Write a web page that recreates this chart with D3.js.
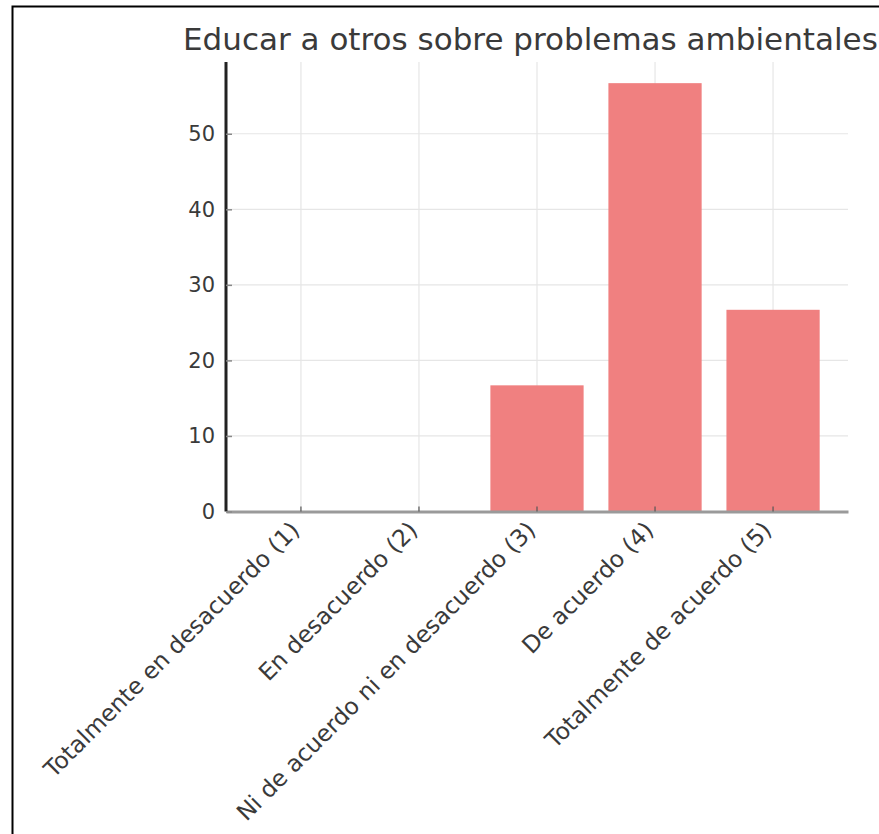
<!DOCTYPE html>
<html>
<head>
<meta charset="utf-8">
<script src="https://cdn.jsdelivr.net/npm/d3@7"></script>
<style>
  html, body { margin: 0; padding: 0; background: #fff; }
  svg { display: block; }
</style>
</head>
<body>
<svg id="chart" width="879" height="834"></svg>
<script>
const title = "Educar a otros sobre problemas ambientales";
const categories = [
  "Totalmente en desacuerdo (1)",
  "En desacuerdo (2)",
  "Ni de acuerdo ni en desacuerdo (3)",
  "De acuerdo (4)",
  "Totalmente de acuerdo (5)"
];
const values = [0, 0, 16.7, 56.7, 26.7];
const yTicks = [0, 10, 20, 30, 40, 50];
const yMax = 59.5;

(function () {
const svg = d3.select("#chart");
const pLeft = 226, pRight = 848, pTop = 62, pBottom = 511.5;

// outer frame
svg.append("rect")
  .attr("x", 12.5).attr("y", 6.5)
  .attr("width", 1000).attr("height", 1000)
  .attr("fill", "none").attr("stroke", "#000").attr("stroke-width", 2);

const x = d3.scaleBand().domain(categories).range([pLeft, pRight])
  .paddingInner(0.21).paddingOuter(0.24);
const y = d3.scaleLinear().domain([0, yMax]).range([pBottom, pTop]);

// grid
const grid = svg.append("g").attr("stroke", "#e6e6e6").attr("stroke-width", 1.2);
grid.selectAll("line.h").data(yTicks.filter(d => d > 0)).join("line")
  .attr("class", "h")
  .attr("x1", pLeft).attr("x2", pRight)
  .attr("y1", d => y(d)).attr("y2", d => y(d));
grid.selectAll("line.v").data(categories).join("line")
  .attr("class", "v")
  .attr("x1", d => x(d) + x.bandwidth() / 2).attr("x2", d => x(d) + x.bandwidth() / 2)
  .attr("y1", pTop).attr("y2", pBottom);

// bars
svg.append("g").selectAll("rect").data(categories).join("rect")
  .attr("x", d => x(d))
  .attr("width", x.bandwidth())
  .attr("y", (d, i) => y(values[i]))
  .attr("height", (d, i) => y(0) - y(values[i]))
  .attr("fill", "#f08080");

// x axis
const xAxis = svg.append("g").attr("transform", `translate(0,${pBottom})`)
  .call(d3.axisBottom(x).tickSize(-5).tickSizeOuter(0).tickPadding(0));
xAxis.select(".domain").attr("stroke", "#9a9a9a").attr("stroke-width", 3);
xAxis.selectAll(".tick line").attr("stroke", "#555").attr("stroke-width", 1.2);
xAxis.selectAll(".tick text")
  .attr("font-family", "DejaVu Sans")
  .attr("font-size", 23.3)
  .attr("fill", "#3a3a3a")
  .attr("text-anchor", "end")
  .attr("y", 0).attr("dy", 0)
  .attr("transform", "translate(0,20) rotate(-45)");

// y axis
const yAxis = svg.append("g").attr("transform", `translate(${pLeft},0)`)
  .call(d3.axisLeft(y).tickValues(yTicks).tickSize(-6).tickSizeOuter(0).tickPadding(11));
yAxis.select(".domain").attr("stroke", "#222").attr("stroke-width", 3)
  .attr("d", `M0,${pTop}V${pBottom}`);
yAxis.selectAll(".tick line").attr("stroke", "#888").attr("stroke-width", 1.5);
yAxis.selectAll(".tick text")
  .attr("font-family", "DejaVu Sans")
  .attr("font-size", 21)
  .attr("fill", "#3a3a3a");

// title
svg.append("text")
  .attr("x", 183).attr("y", 50)
  .attr("font-family", "DejaVu Sans")
  .attr("font-size", 31)
  .attr("fill", "#3a3a3a")
  .text(title);
})();
</script>
</body>
</html>
